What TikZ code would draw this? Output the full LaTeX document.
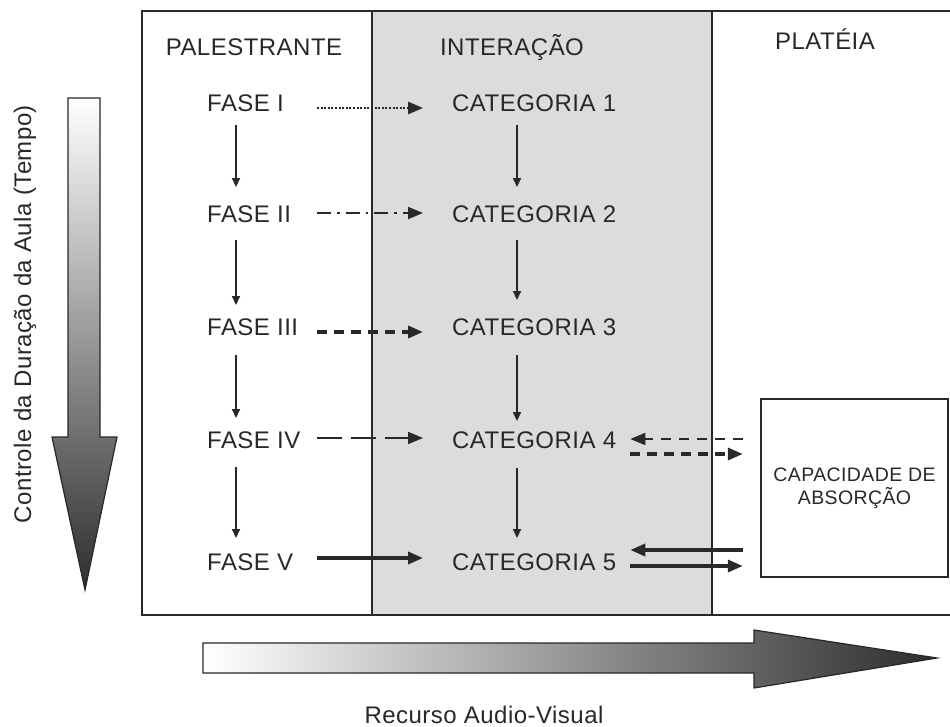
\documentclass[tikz,border=0pt]{standalone}
\usepackage{fontspec}
\setmainfont{Liberation Sans}[LetterSpace=2]
\usetikzlibrary{arrows.meta}
\definecolor{ink}{RGB}{40,40,40}
\definecolor{colgray}{RGB}{220,220,220}
\definecolor{shmid}{RGB}{195,195,195}
\definecolor{shdark}{RGB}{45,45,45}
\begin{document}
\begin{tikzpicture}[x=1pt,y=1pt,
  lbl/.style={font=\fontsize{24}{26}\selectfont, text=ink, inner sep=0pt, anchor=base west},
  hdr/.style={font=\fontsize{24}{26}\selectfont, text=ink, inner sep=0pt, anchor=base},
  frameline/.style={draw=ink, line width=1.6pt},
  vdown/.style={draw=ink, line width=1.7pt, -{Triangle[length=9pt,width=8pt]}},
  tip/.style={-{Triangle[length=15pt,width=12pt]}},
  dotln/.style={draw=ink, tip, line width=2.6pt, dash pattern=on 2pt off 1.6pt},
  dashdotln/.style={draw=ink, tip, line width=1.8pt, dash pattern=on 14pt off 6pt on 2.5pt off 6pt},
  thickdash/.style={draw=ink, tip, line width=3.4pt, dash pattern=on 10pt off 7pt},
  longdash/.style={draw=ink, tip, line width=1.8pt, dash pattern=on 25pt off 9pt},
  thindash/.style={draw=ink, tip, line width=1.7pt, dash pattern=on 10pt off 8pt},
  solidln/.style={draw=ink, tip, line width=3.4pt},
  boxst/.style={minimum width=187pt, minimum height=178pt, inner sep=0pt, align=center,
    font=\fontsize{19.5}{23}\selectfont, text=ink},
  bigarrow/.style={draw=ink, line width=1.2pt}
]
\useasboundingbox (0,-727) rectangle (950,0);

% middle column
\fill[colgray] (372,-11) rectangle (712,-615);
% frame
\draw[frameline] (950,-11) -- (142,-11) -- (142,-615) -- (950,-615);
\draw[frameline] (372,-11) -- (372,-615);
\draw[frameline] (712,-11) -- (712,-615);

% headers
\node[hdr] (hp) at (254,-56) {PALESTRANTE};
\node[hdr] (hi) at (512,-56) {INTERAÇÃO};
\node[hdr] (hpl) at (825,-50) {PLATÉIA};

% FASE nodes
\node[lbl] (f1) at (207,-112) {FASE I};
\node[lbl] (f2) at (207,-223) {FASE II};
\node[lbl] (f3) at (207,-335) {FASE III};
\node[lbl] (f4) at (207,-448) {FASE IV};
\node[lbl] (f5) at (207,-570) {FASE V};

% CATEGORIA nodes
\node[lbl] (c1) at (452,-112) {CATEGORIA 1};
\node[lbl] (c2) at (452,-223) {CATEGORIA 2};
\node[lbl] (c3) at (452,-335) {CATEGORIA 3};
\node[lbl] (c4) at (452,-448) {CATEGORIA 4};
\node[lbl] (c5) at (452,-570) {CATEGORIA 5};

% box
\node[boxst] (box) at (854.5,-488) {CAPACIDADE DE\\ABSORÇÃO};
\draw[frameline] (box.north west) rectangle (box.south east);

% vertical arrows, FASE column
\draw[vdown] ([shift={(29pt,-13pt)}]f1.base west) -- ([shift={(29pt,19pt)}]f2.north west);
\draw[vdown] ([shift={(29pt,-17pt)}]f2.base west) -- ([shift={(29pt,13pt)}]f3.north west);
\draw[vdown] ([shift={(29pt,-20pt)}]f3.base west) -- ([shift={(29pt,13pt)}]f4.north west);
\draw[vdown] ([shift={(29pt,-19pt)}]f4.base west) -- ([shift={(29pt,15pt)}]f5.north west);

% vertical arrows, CATEGORIA column
\draw[vdown] ([shift={(65pt,-13pt)}]c1.base west) -- ([shift={(65pt,19pt)}]c2.north west);
\draw[vdown] ([shift={(65pt,-17pt)}]c2.base west) -- ([shift={(65pt,18pt)}]c3.north west);
\draw[vdown] ([shift={(65pt,-20pt)}]c3.base west) -- ([shift={(65pt,10pt)}]c4.north west);
\draw[vdown] ([shift={(65pt,-20pt)}]c4.base west) -- ([shift={(65pt,15pt)}]c5.north west);

% horizontal arrows FASE -> CATEGORIA
\draw[dotln]     ([shift={(110pt,4pt)}]f1.base west)  -- ([shift={(-29pt,4pt)}]c1.base west);
\draw[dashdotln] ([shift={(110pt,10pt)}]f2.base west) -- ([shift={(-29pt,10pt)}]c2.base west);
\draw[thickdash] ([shift={(110pt,3pt)}]f3.base west)  -- ([shift={(-29pt,3pt)}]c3.base west);
\draw[longdash]  ([shift={(110pt,10pt)}]f4.base west) -- ([shift={(-29pt,10pt)}]c4.base west);
\draw[solidln]   ([shift={(110pt,12pt)}]f5.base west) -- ([shift={(-29pt,12pt)}]c5.base west);

% arrows between CATEGORIA 4/5 and box
\draw[thindash]  ([shift={(-18pt,49pt)}]box.west)  -- ([shift={(14pt,9pt)}]c4.base east);
\draw[thickdash] ([shift={(14pt,-6pt)}]c4.base east) -- ([shift={(-18pt,34pt)}]box.west);
\draw[solidln]   ([shift={(-18pt,-62pt)}]box.west) -- ([shift={(14pt,20pt)}]c5.base east);
\draw[solidln]   ([shift={(14pt,4pt)}]c5.base east) -- ([shift={(-18pt,-78pt)}]box.west);

% big time arrow (left)
\shade[top color=white, middle color=shmid, bottom color=shdark, bigarrow]
  (68,-98) -- (100,-98) -- (100,-437) -- (117,-437) -- (85,-590) -- (52,-437) -- (68,-437) -- cycle;
\node[rotate=90, font=\fontsize{24}{26}\selectfont, text=ink] (ytitle) at (25,-314)
  {Controle da Duração da Aula (Tempo)};

% big resource arrow (bottom)
\shade[left color=white, middle color=shmid, right color=shdark, bigarrow]
  (203,-643) -- (754,-643) -- (754,-630) -- (937,-658) -- (754,-688) -- (754,-673) -- (203,-673) -- cycle;
\node[hdr] (xtitle) at (484,-723) {Recurso Audio-Visual};
\end{tikzpicture}
\end{document}
